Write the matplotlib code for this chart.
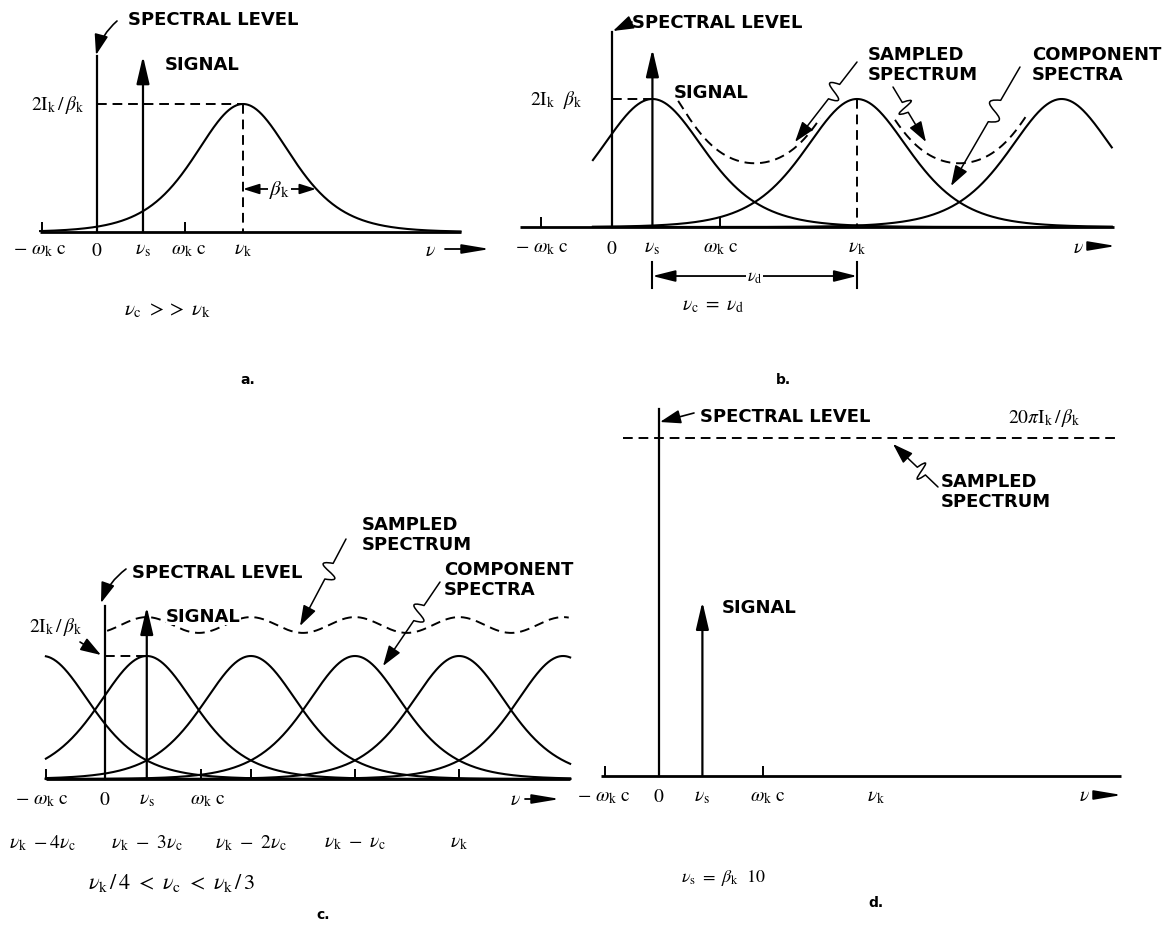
import numpy as np
import matplotlib.pyplot as plt
from matplotlib.path import Path
from matplotlib.patches import FancyArrowPatch

plt.rcParams['mathtext.fontset'] = 'stix'
plt.rcParams['font.family'] = 'DejaVu Sans'

W, H = 1173, 929

# frequencies in units of nu_k, levels in units of the peak 2I_k/beta_k

# --- a. ---
a_width = 0.44
a_nu_s = 0.315
a_beta_mark = 0.5
a_axis = (-0.39, 2.49)
a_ticks = [-0.38, 0.60]
a_tick_pos = [-0.39, 0.0, 0.315, 0.63, 1.0]
a_line_top = 1.375
a_signal_top = 1.375

# --- b. ---
b_peaks = [0.165, 1.0, 1.835]      # nu_s, nu_k, nu_k + nu_c
b_nu_c = 0.835
b_width = 0.286
b_alias_width = 0.207              # width used in the summed (sampled) spectrum
b_curve_span = (-0.078, 2.04)
b_dash_spans = [(0.27, 0.85), (1.155, 1.69)]
b_axis = (-0.375, 2.05)
b_ticks = [-0.29, 0.44]
b_tick_pos = [-0.286, 0.0, 0.165, 0.445, 1.0]
b_line_top = 1.52
b_signal_top = 1.39

# --- c. ---
c_nu_c = 0.294
c_orders = [4, 3, 2, 1, 0, -1]     # components at nu_k - n * nu_c
c_width = 0.184
c_nu_s = 0.118
c_axis = (-0.167, 1.314)
c_dash_span = (0.006, 1.31)
c_ticks = [-0.167, 0.27, 0.412, 0.706, 1.0]
c_tick_pos = [-0.178, 0.0, 0.118, 0.29]
c_order_txt = [r'$\nu_{\mathrm{k}}\ -4\nu_{\mathrm{c}}$', r'$\nu_{\mathrm{k}}\ -\ 3\nu_{\mathrm{c}}$',
               r'$\nu_{\mathrm{k}}\ -\ 2\nu_{\mathrm{c}}$', r'$\nu_{\mathrm{k}}\ -\ \nu_{\mathrm{c}}$',
               r'$\nu_{\mathrm{k}}$']
c_line_top = 1.41
c_signal_top = 1.40

# --- d. ---
d_level = 10 * np.pi               # 20 pi I_k / beta_k
d_nu_s = 0.2
d_axis = (-0.267, 2.13)
d_dash_span = (-0.166, 2.12)
d_ticks = [-0.25, 0.48]
d_tick_pos = [-0.253, 0.0, 0.2, 0.5, 1.0]
d_line_top = 34.1
d_signal_top = 16.2

OMN = r'$-\ \omega_{\mathrm{k}}\ \mathrm{c}$'
OM = r'$\omega_{\mathrm{k}}\ \mathrm{c}$'
NUS = r'$\nu_{\mathrm{s}}$'
NUK = r'$\nu_{\mathrm{k}}$'
tick_txt = [OMN, '$0$', NUS, OM, NUK]


def comp(nu, center, width):
    return 1.0 / np.cosh((nu - center) / width) ** 2


def lorentz(nu, center, width):
    return 1.0 / (1.0 + ((nu - center) / width) ** 2)


fig = plt.figure(figsize=(W / 100, H / 100), dpi=100)


def panel(x0, y0, sx, sy):
    ax = fig.add_axes([0, 0, 1, 1])
    ax.set_xlim(-x0 / sx, (W - x0) / sx)
    ax.set_ylim((y0 - H) / sy, y0 / sy)
    ax.set_axis_off()
    ax.patch.set_alpha(0)
    return ax


def baseline(ax, span, ticks):
    ax.plot(span, [0, 0], color='k', lw=2.0, solid_capstyle='butt')
    ax.plot(ticks, np.zeros(len(ticks)), ls='none', marker=2, ms=7, mew=1.4, color='k')


def spectral_line(ax, x, top):
    ax.plot([x, x], [0, top], color='k', lw=1.6)


def signal(ax, x, top):
    ax.annotate('', xy=(x, top), xytext=(x, 0),
                arrowprops=dict(arrowstyle='-|>,head_length=1.2,head_width=0.28', color='k',
                                lw=1.6, shrinkA=0, shrinkB=0, mutation_scale=14))


def labels(ax, pos, txt, dy, size=14):
    for x, t in zip(pos, txt):
        ax.annotate(t, (x, 0), xytext=(0, -dy), textcoords='offset pixels',
                    ha='center', va='center', fontsize=size)


DASH = dict(color='k', lw=1.4, dashes=(5, 3))
CURVE = dict(color='k', lw=1.5)

# ---------------- a. ----------------
ax = panel(97, 233, 146, 128)
nu = np.linspace(*a_axis, 500)
ax.plot(nu, comp(nu, 1.0, a_width), **CURVE)
baseline(ax, a_axis, a_ticks)
spectral_line(ax, 0, a_line_top)
signal(ax, a_nu_s, a_signal_top)
ax.plot([0, 1.0], [1, 1], **DASH)
ax.plot([1.0, 1.0], [1, 0], **DASH)
labels(ax, a_tick_pos, tick_txt, 17)
ax.annotate('', xy=(1.0, 0.336), xytext=(1.0 + a_beta_mark, 0.336),
            arrowprops=dict(arrowstyle='<|-|>,head_length=0.7,head_width=0.22', color='k',
                            lw=1.3, shrinkA=0, shrinkB=0, mutation_scale=14))
ax.text(1.0 + a_beta_mark / 2, 0.336, r'$\beta_{\mathrm{k}}$', ha='center', va='center',
        fontsize=15, bbox=dict(fc='white', ec='none', pad=0.5))

# ---------------- b. ----------------
ax = panel(612, 228, 245, 128)
nu = np.linspace(*b_curve_span, 600)
for p in b_peaks:
    ax.plot(nu, comp(nu, p, b_width), **CURVE)
for lo, hi in b_dash_spans:
    nn = np.linspace(lo, hi, 200)
    total = sum(lorentz(nn, b_peaks[0] + k * b_nu_c, b_alias_width) for k in range(-12, 13))
    ax.plot(nn, total, **DASH)
baseline(ax, b_axis, b_ticks)
spectral_line(ax, 0, b_line_top)
signal(ax, b_peaks[0], b_signal_top)
ax.plot([0, b_peaks[0]], [1, 1], **DASH)
ax.plot([1.0, 1.0], [1, 0], **DASH)
labels(ax, b_tick_pos, tick_txt, 20)
for x in (b_peaks[0], 1.0):
    ax.plot([x, x], [-0.27, -0.48], color='k', lw=1.5)
ax.annotate('', xy=(b_peaks[0], -0.383), xytext=(1.0, -0.383),
            arrowprops=dict(arrowstyle='<|-|>,head_length=1.0,head_width=0.25', color='k',
                            lw=1.3, shrinkA=0, shrinkB=0, mutation_scale=14))
ax.text((b_peaks[0] + 1.0) / 2, -0.383, r'$\nu_{\mathrm{d}}$', ha='center', va='center',
        fontsize=12, bbox=dict(fc='white', ec='none', pad=0.5))

# ---------------- c. ----------------
ax = panel(105, 780, 354, 123)
nu = np.linspace(*c_axis, 600)
for n in c_orders:
    ax.plot(nu, comp(nu, 1.0 - n * c_nu_c, c_width), **CURVE)
nn = np.linspace(*c_dash_span, 400)
total = sum(comp(nn, 1.0 - n * c_nu_c, c_width) for n in range(-12, 13))
ax.plot(nn, total, **DASH)
baseline(ax, c_axis, c_ticks)
spectral_line(ax, 0, c_line_top)
signal(ax, c_nu_s, c_signal_top)
ax.plot([0, c_nu_s], [1, 1], **DASH)
labels(ax, c_tick_pos, [OMN, '$0$', NUS, OM], 20)
labels(ax, [1.0 - n * c_nu_c for n in c_orders[:5]], c_order_txt, 63)

# ---------------- d. ----------------
ax = panel(659, 777, 217, 10.76)
baseline(ax, d_axis, d_ticks)
spectral_line(ax, 0, d_line_top)
signal(ax, d_nu_s, d_signal_top)
ax.plot(d_dash_span, [d_level, d_level], **DASH)
labels(ax, d_tick_pos, tick_txt, 20)

# ---------------- annotations (pixel frame) ----------------
ov = fig.add_axes([0, 0, 1, 1])
ov.set_xlim(0, W)
ov.set_ylim(H, 0)
ov.set_axis_off()
ov.patch.set_alpha(0)

BOLD = dict(fontsize=13, fontweight='bold', va='center', ha='left')
MATH = dict(fontsize=14, va='center')


def pointer(p0, p1, rad=0.0):
    ov.annotate('', xy=p1, xytext=p0,
                arrowprops=dict(arrowstyle='-|>,head_length=0.9,head_width=0.3', color='k', lw=1.2,
                                shrinkA=0, shrinkB=0, mutation_scale=14,
                                connectionstyle=f'arc3,rad={rad}'))


def squiggle(p0, p1, amp=30):
    p0 = np.asarray(p0, float)
    p1 = np.asarray(p1, float)
    d = p1 - p0
    n = np.array([-d[1], d[0]]) / np.hypot(*d)
    A = p0 + 0.28 * d
    B = p0 + 0.46 * d
    verts = [p0, A, A + 0.10 * d + amp * n, B - 0.10 * d - amp * n, B, p1]
    codes = [Path.MOVETO, Path.LINETO, Path.CURVE4, Path.CURVE4, Path.CURVE4, Path.LINETO]
    ov.add_patch(FancyArrowPatch(path=Path(verts, codes),
                                 arrowstyle='-|>,head_length=0.9,head_width=0.3',
                                 mutation_scale=14, color='k', lw=1.1))


def nu_arrow(x, y, x0, x1):
    ov.text(x, y, r'$\nu$', ha='center', **MATH)
    ov.annotate('', xy=(x1, y), xytext=(x0, y),
                arrowprops=dict(arrowstyle='-|>,head_length=1.2,head_width=0.2', color='k', lw=1.3,
                                shrinkA=0, shrinkB=0, mutation_scale=14))


# a.
ov.text(128, 20, 'SPECTRAL LEVEL', **BOLD)
pointer((117, 22), (96, 56), rad=0.15)
ov.text(165, 65, 'SIGNAL', **BOLD)
ov.text(84, 105, r'$2\mathrm{I}_{\mathrm{k}}\,/\,\beta_{\mathrm{k}}$', ha='right', **MATH)
nu_arrow(430, 250, 445, 490)
ov.text(168, 310, r'$\nu_{\mathrm{c}}\ >>\ \nu_{\mathrm{k}}$', ha='center', fontsize=15, va='center')
ov.text(248, 380, 'a.', fontsize=10, fontweight='bold', ha='center', va='center')

# b.
pointer((632, 23), (613, 32))
ov.text(632, 23, 'SPECTRAL LEVEL', **BOLD)
ov.text(674, 93, 'SIGNAL', **BOLD)
ov.text(582, 100, r'$2\mathrm{I}_{\mathrm{k}}\ \ \beta_{\mathrm{k}}$', ha='right', **MATH)
ov.text(868, 65, 'SAMPLED\nSPECTRUM', linespacing=1.1, **BOLD)
ov.text(1032, 65, 'COMPONENT\nSPECTRA', linespacing=1.1, **BOLD)
squiggle((857, 63), (795, 143))
squiggle((893, 88), (926, 143), amp=-30)
squiggle((1020, 68), (951, 187))
nu_arrow(1078, 247, 1088, 1116)
ov.text(713, 305, r'$\nu_{\mathrm{c}}\ =\ \nu_{\mathrm{d}}$', ha='center', fontsize=14, va='center')
ov.text(783, 380, 'b.', fontsize=10, fontweight='bold', ha='center', va='center')

# c.
ov.text(132, 573, 'SPECTRAL LEVEL', **BOLD)
pointer((126, 570), (101, 604), rad=0.15)
ov.text(166, 617, 'SIGNAL', bbox=dict(fc='white', ec='none', pad=0.3), **BOLD)
ov.text(82, 627, r'$2\mathrm{I}_{\mathrm{k}}\,/\,\beta_{\mathrm{k}}$', ha='right', **MATH)
pointer((80, 643), (101, 656))
ov.text(362, 535, 'SAMPLED\nSPECTRUM', linespacing=1.1, **BOLD)
ov.text(444, 580, 'COMPONENT\nSPECTRA', linespacing=1.1, **BOLD)
squiggle((346, 540), (300, 627))
squiggle((440, 583), (383, 667))
nu_arrow(515, 800, 525, 560)
ov.text(172, 883, r'$\nu_{\mathrm{k}}\,/\,4\ <\ \nu_{\mathrm{c}}\ <\ \nu_{\mathrm{k}}\,/\,3$', ha='center',
        fontsize=16, va='center')
ov.text(323, 915, 'c.', fontsize=10, fontweight='bold', ha='center', va='center')

# d.
ov.text(700, 417, 'SPECTRAL LEVEL', **BOLD)
pointer((694, 414), (660, 423))
ov.text(1008, 418, r'$20\pi\mathrm{I}_{\mathrm{k}}\,/\,\beta_{\mathrm{k}}$', ha='left', **MATH)
ov.text(941, 492, 'SAMPLED\nSPECTRUM', linespacing=1.1, **BOLD)
squiggle((938, 488), (893, 445), amp=-30)
ov.text(722, 608, 'SIGNAL', **BOLD)
nu_arrow(1084, 796, 1094, 1122)
ov.text(723, 878, r'$\nu_{\mathrm{s}}\ =\ \beta_{\mathrm{k}}\ \ 10$', ha='center', fontsize=13,
        va='center')
ov.text(876, 903, 'd.', fontsize=10, fontweight='bold', ha='center', va='center')

fig.savefig('out.png', dpi=100)
